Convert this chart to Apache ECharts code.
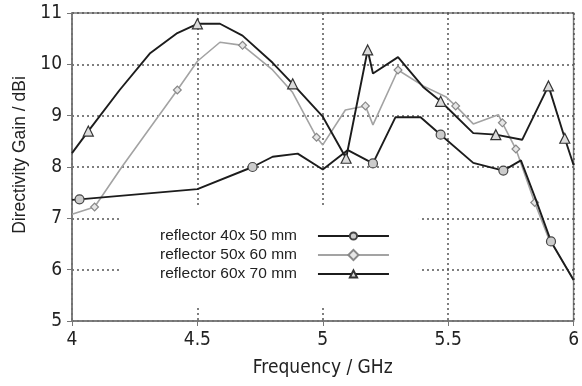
<!DOCTYPE html>
<html>
<head>
<meta charset="utf-8">
<script src="https://cdn.jsdelivr.net/npm/echarts@6/dist/echarts.min.js"></script>
<style>
html, body { margin: 0; padding: 0; background: #fff; }
#chart { width: 582px; height: 386px; }
</style>
</head>
<body>
<div id="chart"></div>
<script>
// series names
const names = ["reflector 40x 50 mm", "reflector 50x 60 mm", "reflector 60x 70 mm"];

// reflector 40x50 mm
const freq40 = [4.00, 4.03, 4.50, 4.72, 4.80, 4.90, 5.00, 5.10, 5.20, 5.29, 5.39, 5.47, 5.60, 5.72, 5.79, 5.85, 5.91, 6.00];
const gain40 = [7.36, 7.37, 7.57, 8.00, 8.20, 8.26, 7.95, 8.33, 8.07, 8.97, 8.97, 8.63, 8.08, 7.93, 8.13, 7.36, 6.55, 5.80];
const mark40 = [1, 3, 8, 11, 13, 16];

// reflector 50x60 mm
const freq50 = [4.00, 4.09, 4.20, 4.42, 4.50, 4.59, 4.68, 4.80, 4.88, 4.975, 5.00, 5.09, 5.17, 5.20, 5.30, 5.40, 5.49, 5.53, 5.60, 5.70, 5.716, 5.77, 5.845, 5.90, 6.00];
const gain50 = [7.08, 7.22, 8.01, 9.50, 10.06, 10.43, 10.37, 9.89, 9.45, 8.58, 8.43, 9.11, 9.19, 8.82, 9.89, 9.58, 9.37, 9.19, 8.84, 9.02, 8.86, 8.35, 7.31, 6.62, 5.80];
const mark50 = [1, 3, 6, 9, 12, 14, 17, 20, 21, 22];

// reflector 60x70 mm
const freq60 = [4.00, 4.065, 4.19, 4.31, 4.42, 4.50, 4.59, 4.68, 4.80, 4.88, 5.00, 5.093, 5.179, 5.20, 5.30, 5.40, 5.47, 5.60, 5.69, 5.795, 5.90, 5.965, 6.00];
const gain60 = [8.27, 8.70, 9.50, 10.21, 10.61, 10.79, 10.79, 10.56, 10.03, 9.62, 8.98, 8.17, 10.28, 9.82, 10.14, 9.56, 9.28, 8.66, 8.63, 8.53, 9.58, 8.56, 8.04];
const mark60 = [1, 5, 9, 11, 12, 16, 18, 20, 21];

function points(xs, ys, marks) {
	return xs.map((x, i) => marks.includes(i) ? [x, ys[i]] : { value: [x, ys[i]], symbol: "none" });
}

const tickFont = "'DejaVu Sans Condensed', 'DejaVu Sans', sans-serif";
const dark = "#1c1c1c";
const grey = "#a3a3a3";

const myChart = echarts.init(document.getElementById("chart"));
const option = {
	backgroundColor: "#fff",
	animation: false,
	grid: { left: 72, right: 7, top: 13, bottom: 65, show: true, borderColor: "#777", borderWidth: 1.5 },
	legend: {
		data: names,
		orient: "vertical",
		left: 120,
		top: 205,
		align: "right",
		backgroundColor: "#fff",
		padding: [23, 29, 24, 40],
		itemWidth: 71,
		itemHeight: 9,
		itemGap: 3,
		textStyle: { fontFamily: "'Liberation Sans', Arial, sans-serif", fontSize: 15.5, color: "#222", padding: [0, 16, 0, 0] }
	},
	xAxis: {
		type: "value",
		min: 4,
		max: 6,
		interval: 0.5,
		name: "Frequency / GHz",
		nameLocation: "middle",
		nameGap: 38,
		nameTextStyle: { fontFamily: tickFont, fontSize: 19, color: "#222" },
		axisLine: { lineStyle: { color: "#777", width: 1.5 } },
		axisTick: { show: true, length: 5, lineStyle: { color: "#777" } },
		axisLabel: { fontFamily: tickFont, fontSize: 19, color: "#222", margin: 10 },
		splitLine: { show: true, lineStyle: { color: "#555", type: [2, 3], width: 1.5 } }
	},
	yAxis: {
		type: "value",
		min: 5,
		max: 11,
		interval: 1,
		name: "Directivity Gain / dBi",
		nameLocation: "middle",
		nameGap: 40,
		nameTextStyle: { fontFamily: "'Liberation Sans', Arial, sans-serif", fontSize: 17.5, color: "#222", padding: [0, 0, 0, 24] },
		axisLine: { show: true, lineStyle: { color: "#777", width: 1.5 } },
		axisTick: { show: true, length: 5, lineStyle: { color: "#777" } },
		axisLabel: { fontFamily: tickFont, fontSize: 19, color: "#222", margin: 10 },
		splitLine: { show: true, lineStyle: { color: "#555", type: [2, 3], width: 1.5 } }
	},
	series: [
		{
			name: names[0],
			type: "line",
			z: 3,
			data: points(freq40, gain40, mark40),
			symbol: "circle",
			symbolSize: 9,
			lineStyle: { color: dark, width: 1.9 },
			itemStyle: { color: "#cccccc", borderColor: "#444", borderWidth: 1.2 }
		},
		{
			name: names[1],
			type: "line",
			z: 2,
			data: points(freq50, gain50, mark50),
			symbol: "rect",
			symbolRotate: 45,
			symbolSize: 5.5,
			lineStyle: { color: grey, width: 1.6 },
			itemStyle: { color: "#e6e6e6", borderColor: "#888", borderWidth: 1.2 }
		},
		{
			name: names[2],
			type: "line",
			z: 3,
			data: points(freq60, gain60, mark60),
			symbol: "triangle",
			symbolSize: 10,
			lineStyle: { color: dark, width: 1.9 },
			itemStyle: { color: "#dcdcdc", borderColor: "#333", borderWidth: 1.2 }
		}
	]
};
myChart.setOption(option);
</script>
</body>
</html>
